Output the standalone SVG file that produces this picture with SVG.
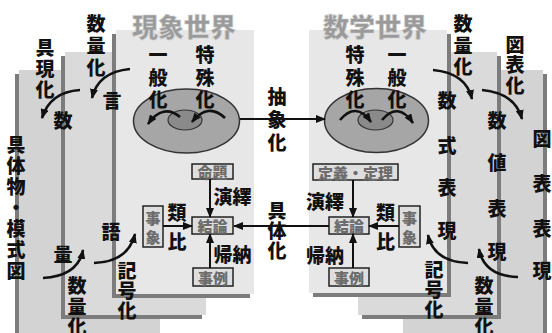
<svg xmlns="http://www.w3.org/2000/svg" width="552" height="333" viewBox="0 0 552 333">
<defs>
<marker id="ah" markerWidth="10" markerHeight="8" refX="9" refY="4" orient="auto" markerUnits="userSpaceOnUse"><path d="M0,0 L10,4 L0,8 Z" fill="#111"/></marker>
</defs>
<style>
.sh{fill:#7c7c7c}
.p1{fill:#e7e7e7}
.p2{fill:#dadada}
.p3{fill:#d3d3d3}
text{font-family:"Noto Sans CJK JP","Noto Sans CJK SC",sans-serif;font-weight:900;text-anchor:middle;dominant-baseline:central;fill:#111}
.v{font-size:19px}
.t{font-size:26px;fill:#9a9a9a;stroke:#d0d0d0;stroke-width:0.7}
.bx{fill:#dedede;stroke:#222;stroke-width:1.5}
.bt{font-size:15px;fill:#6c6c6c}
.ln{stroke:#111;stroke-width:2;fill:none}
.cv{stroke:#111;stroke-width:2.6;fill:none}
.eo{fill:#a6a6a6;stroke:#333;stroke-width:1.5}
.ei{fill:#8a8a8a;stroke:#333;stroke-width:1.2}
</style>

<g id="panels">
  <rect class="sh" x="15" y="74" width="141" height="270"/>
  <rect class="p3" x="19" y="70" width="141" height="270"/>
  <rect class="sh" x="61" y="56" width="141" height="263"/>
  <rect class="p2" x="65" y="52" width="141" height="263"/>
  <rect class="sh" x="112" y="34" width="138" height="264"/>
  <rect class="p1" x="116" y="30" width="138" height="264"/>
  <rect class="sh" x="407" y="74" width="140" height="270"/>
  <rect class="p3" x="403" y="70" width="140" height="270"/>
  <rect class="sh" x="362" y="56" width="139" height="263"/>
  <rect class="p2" x="358" y="52" width="139" height="263"/>
  <rect class="sh" x="313" y="34" width="138" height="263"/>
  <rect class="p1" x="309" y="30" width="138" height="263"/>
</g>

<g id="titles">
  <text class="t" x="184" y="25">現象世界</text>
  <text class="t" x="375" y="25">数学世界</text>
</g>

<g id="ellipse-left">
  <ellipse class="eo" cx="186.5" cy="121" rx="53" ry="32"/>
  <ellipse class="ei" cx="185" cy="120" rx="17" ry="10"/>
</g>
<g id="ellipse-right">
  <ellipse class="eo" cx="376.5" cy="120.5" rx="52" ry="32"/>
  <ellipse class="ei" cx="375.5" cy="120" rx="17.5" ry="10"/>
</g>

<g id="boxes">
  <g id="n-meidai"><rect class="bx" x="192" y="164" width="41" height="15"/><text class="bt" x="212.5" y="171.5">命題</text></g>
  <g id="n-ketsuron-l"><rect class="bx" x="192" y="217" width="41" height="17"/><text class="bt" x="212.5" y="225.5">結論</text></g>
  <g id="n-jirei-l"><rect class="bx" x="193" y="268" width="40" height="18"/><text class="bt" x="213" y="277">事例</text></g>
  <g id="n-jishou-l"><rect class="bx" x="143" y="206" width="20" height="41"/><text class="bt"><tspan x="153" y="217">事</tspan><tspan x="153" y="236">象</tspan></text></g>
  <g id="n-teigi"><rect class="bx" x="313" y="164" width="85" height="16"/><text class="bt" x="355.5" y="172">定義・定理</text></g>
  <g id="n-ketsuron-r"><rect class="bx" x="329" y="217" width="40" height="17"/><text class="bt" x="349" y="225.5">結論</text></g>
  <g id="n-jirei-r"><rect class="bx" x="329" y="268" width="40" height="18"/><text class="bt" x="349" y="277">事例</text></g>
  <g id="n-jishou-r"><rect class="bx" x="399" y="206" width="21" height="41"/><text class="bt"><tspan x="409.5" y="217">事</tspan><tspan x="409.5" y="236">象</tspan></text></g>
</g>

<g id="connectors">
  <line class="ln" x1="240" y1="119" x2="325" y2="119" marker-end="url(#ah)"/>
  <line class="ln" x1="329" y1="226" x2="234" y2="226" marker-end="url(#ah)"/>
  <line class="ln" x1="210" y1="179" x2="210" y2="217" marker-end="url(#ah)"/>
  <line class="ln" x1="210" y1="268" x2="210" y2="234" marker-end="url(#ah)"/>
  <line class="ln" x1="163" y1="226" x2="192" y2="226" marker-end="url(#ah)"/>
  <line class="ln" x1="353" y1="180" x2="353" y2="217" marker-end="url(#ah)"/>
  <line class="ln" x1="353" y1="268" x2="353" y2="234" marker-end="url(#ah)"/>
  <line class="ln" x1="399" y1="226" x2="369" y2="226" marker-end="url(#ah)"/>
  <path class="cv" d="M180,117 Q163,103 148,124" marker-end="url(#ah)"/>
  <path class="cv" d="M225,118 Q208,102 192,122" marker-end="url(#ah)"/>
  <path class="cv" d="M340,120 Q356,101 371,122" marker-end="url(#ah)"/>
  <path class="cv" d="M382,120 Q398,101 413,123" marker-end="url(#ah)"/>
  <path class="cv" d="M130,69 Q98,72 92,98" marker-end="url(#ah)"/>
  <path class="cv" d="M80,90 Q50,92 42,118" marker-end="url(#ah)"/>
  <path class="cv" d="M43,278 Q78,276 83,250" marker-end="url(#ah)"/>
  <path class="cv" d="M94,263 Q128,262 135,234" marker-end="url(#ah)"/>
  <path class="cv" d="M433,70 Q466,73 472,99" marker-end="url(#ah)"/>
  <path class="cv" d="M482,90 Q515,93 522,119" marker-end="url(#ah)"/>
  <path class="cv" d="M468,263 Q434,262 428,235" marker-end="url(#ah)"/>
  <path class="cv" d="M518,277 Q484,276 479,249" marker-end="url(#ah)"/>
</g>

<g id="labels">
  <text class="v"><tspan x="158" y="53">一</tspan><tspan x="158" y="76">般</tspan><tspan x="158" y="98">化</tspan></text>
  <text class="v"><tspan x="205" y="53">特</tspan><tspan x="205" y="76">殊</tspan><tspan x="205" y="98">化</tspan></text>
  <text class="v"><tspan x="355" y="53">特</tspan><tspan x="355" y="76">殊</tspan><tspan x="355" y="98">化</tspan></text>
  <text class="v"><tspan x="397" y="53">一</tspan><tspan x="397" y="76">般</tspan><tspan x="397" y="98">化</tspan></text>
  <text class="v"><tspan x="277" y="95">抽</tspan><tspan x="277" y="118">象</tspan><tspan x="277" y="141">化</tspan></text>
  <text class="v"><tspan x="277" y="209">具</tspan><tspan x="277" y="229">体</tspan><tspan x="277" y="249">化</tspan></text>
  <text class="v" x="232.5" y="195.5">演繹</text>
  <text class="v" x="232.5" y="253.5">帰納</text>
  <text class="v"><tspan x="177" y="211">類</tspan><tspan x="177" y="240">比</tspan></text>
  <text class="v" x="325" y="200.5">演繹</text>
  <text class="v" x="325" y="254.5">帰納</text>
  <text class="v"><tspan x="385.5" y="211">類</tspan><tspan x="385.5" y="240">比</tspan></text>

  <text class="v"><tspan x="96" y="22">数</tspan><tspan x="96" y="44">量</tspan><tspan x="96" y="66">化</tspan></text>
  <text class="v"><tspan x="45" y="46">具</tspan><tspan x="45" y="67">現</tspan><tspan x="45" y="88">化</tspan></text>
  <text class="v" x="112" y="99">言</text>
  <text class="v" x="63" y="119">数</text>
  <text class="v"><tspan x="16" y="143">具</tspan><tspan x="16" y="164">体</tspan><tspan x="16" y="185">物</tspan><tspan x="16" y="206">・</tspan><tspan x="16" y="227">模</tspan><tspan x="16" y="248">式</tspan><tspan x="16" y="269">図</tspan></text>
  <text class="v" x="63" y="253">量</text>
  <text class="v" x="111" y="230">語</text>
  <text class="v"><tspan x="77" y="284">数</tspan><tspan x="77" y="305">量</tspan><tspan x="77" y="325">化</tspan></text>
  <text class="v"><tspan x="127" y="269">記</tspan><tspan x="127" y="289">号</tspan><tspan x="127" y="309">化</tspan></text>

  <text class="v"><tspan x="463" y="22">数</tspan><tspan x="463" y="44">量</tspan><tspan x="463" y="65">化</tspan></text>
  <text class="v"><tspan x="515" y="43">図</tspan><tspan x="515" y="63">表</tspan><tspan x="515" y="84">化</tspan></text>
  <text class="v"><tspan x="447" y="99">数</tspan><tspan x="447" y="144">式</tspan><tspan x="447" y="186">表</tspan><tspan x="447" y="229">現</tspan></text>
  <text class="v"><tspan x="497" y="119">数</tspan><tspan x="497" y="161">値</tspan><tspan x="497" y="207">表</tspan><tspan x="497" y="250">現</tspan></text>
  <text class="v"><tspan x="542" y="137">図</tspan><tspan x="542" y="182">表</tspan><tspan x="542" y="227">表</tspan><tspan x="542" y="269">現</tspan></text>
  <text class="v"><tspan x="434" y="268">記</tspan><tspan x="434" y="288">号</tspan><tspan x="434" y="308">化</tspan></text>
  <text class="v"><tspan x="484" y="284">数</tspan><tspan x="484" y="305">量</tspan><tspan x="484" y="325">化</tspan></text>
</g>
</svg>
